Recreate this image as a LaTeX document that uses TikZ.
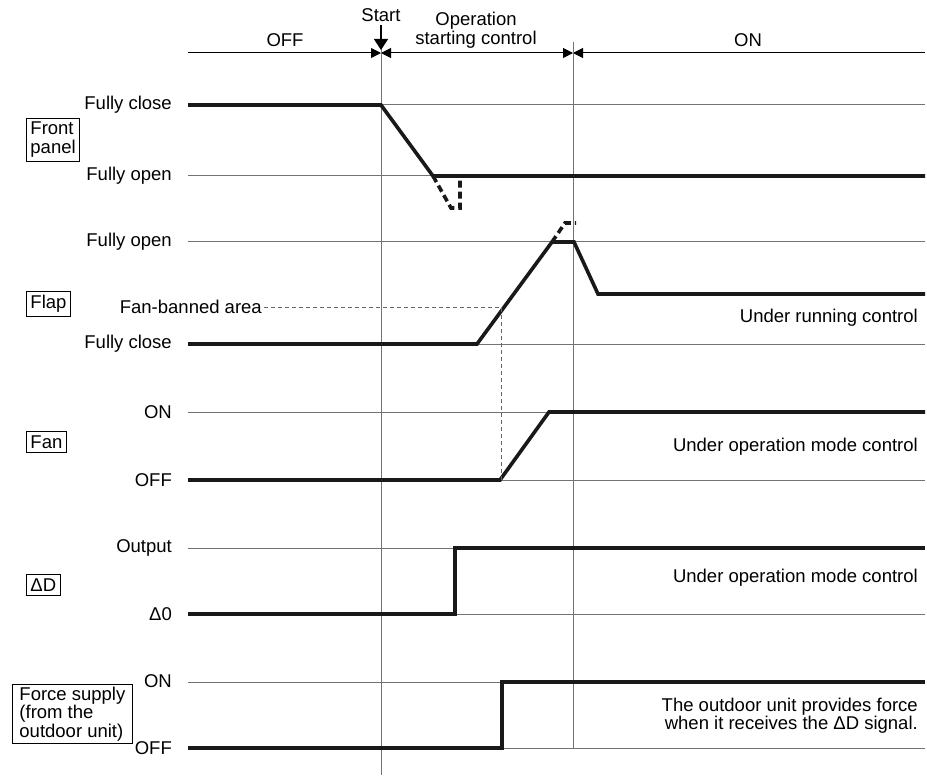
\documentclass[tikz,border=0pt]{standalone}
\usepackage{fontspec}
\setmainfont{Liberation Sans}
\usetikzlibrary{arrows.meta}
\begin{document}
\begin{tikzpicture}[x=1pt, y=-1pt,
    every node/.style={font=\fontsize{18.5}{17}\selectfont},
    lvl/.style={anchor=east, inner sep=0pt},
    level/.style={draw=black!55, line width=1pt},
    sig/.style={draw=black!90, line width=3.6pt, line join=miter},
    sigdash/.style={sig, dash pattern=on 7pt off 4pt},
    tag/.style={draw, line width=0.9pt, anchor=west, align=left, inner xsep=4pt, inner ysep=4pt},
    note/.style={anchor=east, align=right, inner sep=0pt},
    tri/.tip={Triangle[length=10pt, width=10pt]}]

    \useasboundingbox (0,0) rectangle (927,778);

    % time axis
    \coordinate (t0) at (188,53);
    \coordinate (ts) at (381,53);
    \coordinate (te) at (573,53);
    \coordinate (t1) at (925,53);
    \draw[line width=1pt, -tri] (t0) -- (ts);
    \draw[line width=1pt, tri-tri] (ts) -- (te);
    \draw[line width=1pt, tri-] (te) -- (t1);
    \draw[level] (381,46) -- (381,775);
    \draw[level] (573,42) -- (573,748);

    \node (off) at (285,40) {OFF};
    \node (start) at (381,15) {Start};
    \node[align=center, font=\fontsize{18.5}{19}\selectfont] (opstart) at (476,30) {Operation\\starting control};
    \node (on) at (748,40) {ON};
    \coordinate (startpt) at (381,50);
    \draw[line width=1.2pt, -{Triangle[length=11pt, width=14pt]}] (start.south) -- (startpt);

    % level lines
    \foreach \y in {105,176,242,344,412,480,548,614,682,748}
        \draw[level] (188,\y) -- (925,\y);

    % level labels
    \node[lvl] (fpclose) at (172,105) {Fully close};
    \node[lvl] (fpopen) at (172,176) {Fully open};
    \node[lvl] (flopen) at (172,242) {Fully open};
    \node[lvl] (flclose) at (172,344) {Fully close};
    \node[lvl] (fanon) at (172,412) {ON};
    \node[lvl] (fanoff) at (172,480) {OFF};
    \node[lvl] (dout) at (172,548) {Output};
    \node[lvl] (dzero) at (172,614) {Δ0};
    \node[lvl] (fson) at (172,681) {ON};
    \node[lvl] (fsoff) at (172,748) {OFF};

    % signal names
    \node[tag, font=\fontsize{18.5}{19}\selectfont] (front) at (26,140) {Front\\panel};
    \node[tag] (flap) at (26,304) {Flap};
    \node[tag] (fan) at (26,442) {Fan};
    \node[tag] (dd) at (26,585) {ΔD};
    \node[tag, inner xsep=7pt, inner ysep=3pt] (force) at (12,714) {Force supply\\(from the\\outdoor unit)};

    % signals
    \draw[sig] (188,105) -- (381,105) -- (433,176) -- (925,176);
    \draw[sigdash] (433,176) -- (451,208) -- (460,208) -- (460,176);
    \draw[sig] (188,344) -- (477,344) -- (552,242) -- (574,242) -- (598,294) -- (925,294);
    \draw[sigdash] (552,242) -- (565,223) -- (576,223);
    \draw[sig] (188,480) -- (500,480) -- (549,412) -- (925,412);
    \draw[sig] (188,614) -- (455,614) -- (455,548) -- (925,548);
    \draw[sig] (188,748) -- (502,748) -- (502,682) -- (925,682);

    % fan-banned area
    \node[anchor=east, inner sep=2pt] (ban) at (264,307) {Fan-banned area};
    \coordinate (banc) at (501,307);
    \coordinate (banf) at (501,480);
    \draw[black!60, line width=0.8pt, dash pattern=on 4pt off 3pt] (ban.east) -- (banc) -- (banf);

    % notes
    \node[note] (runnote) at (918,318) {Under running control};
    \node[note] (fannote) at (918,447) {Under operation mode control};
    \node[note] (ddnote) at (918,578) {Under operation mode control};
    \node[note] (forcenote) at (918,716) {The outdoor unit provides force\\when it receives the ΔD signal.};
\end{tikzpicture}
\end{document}
